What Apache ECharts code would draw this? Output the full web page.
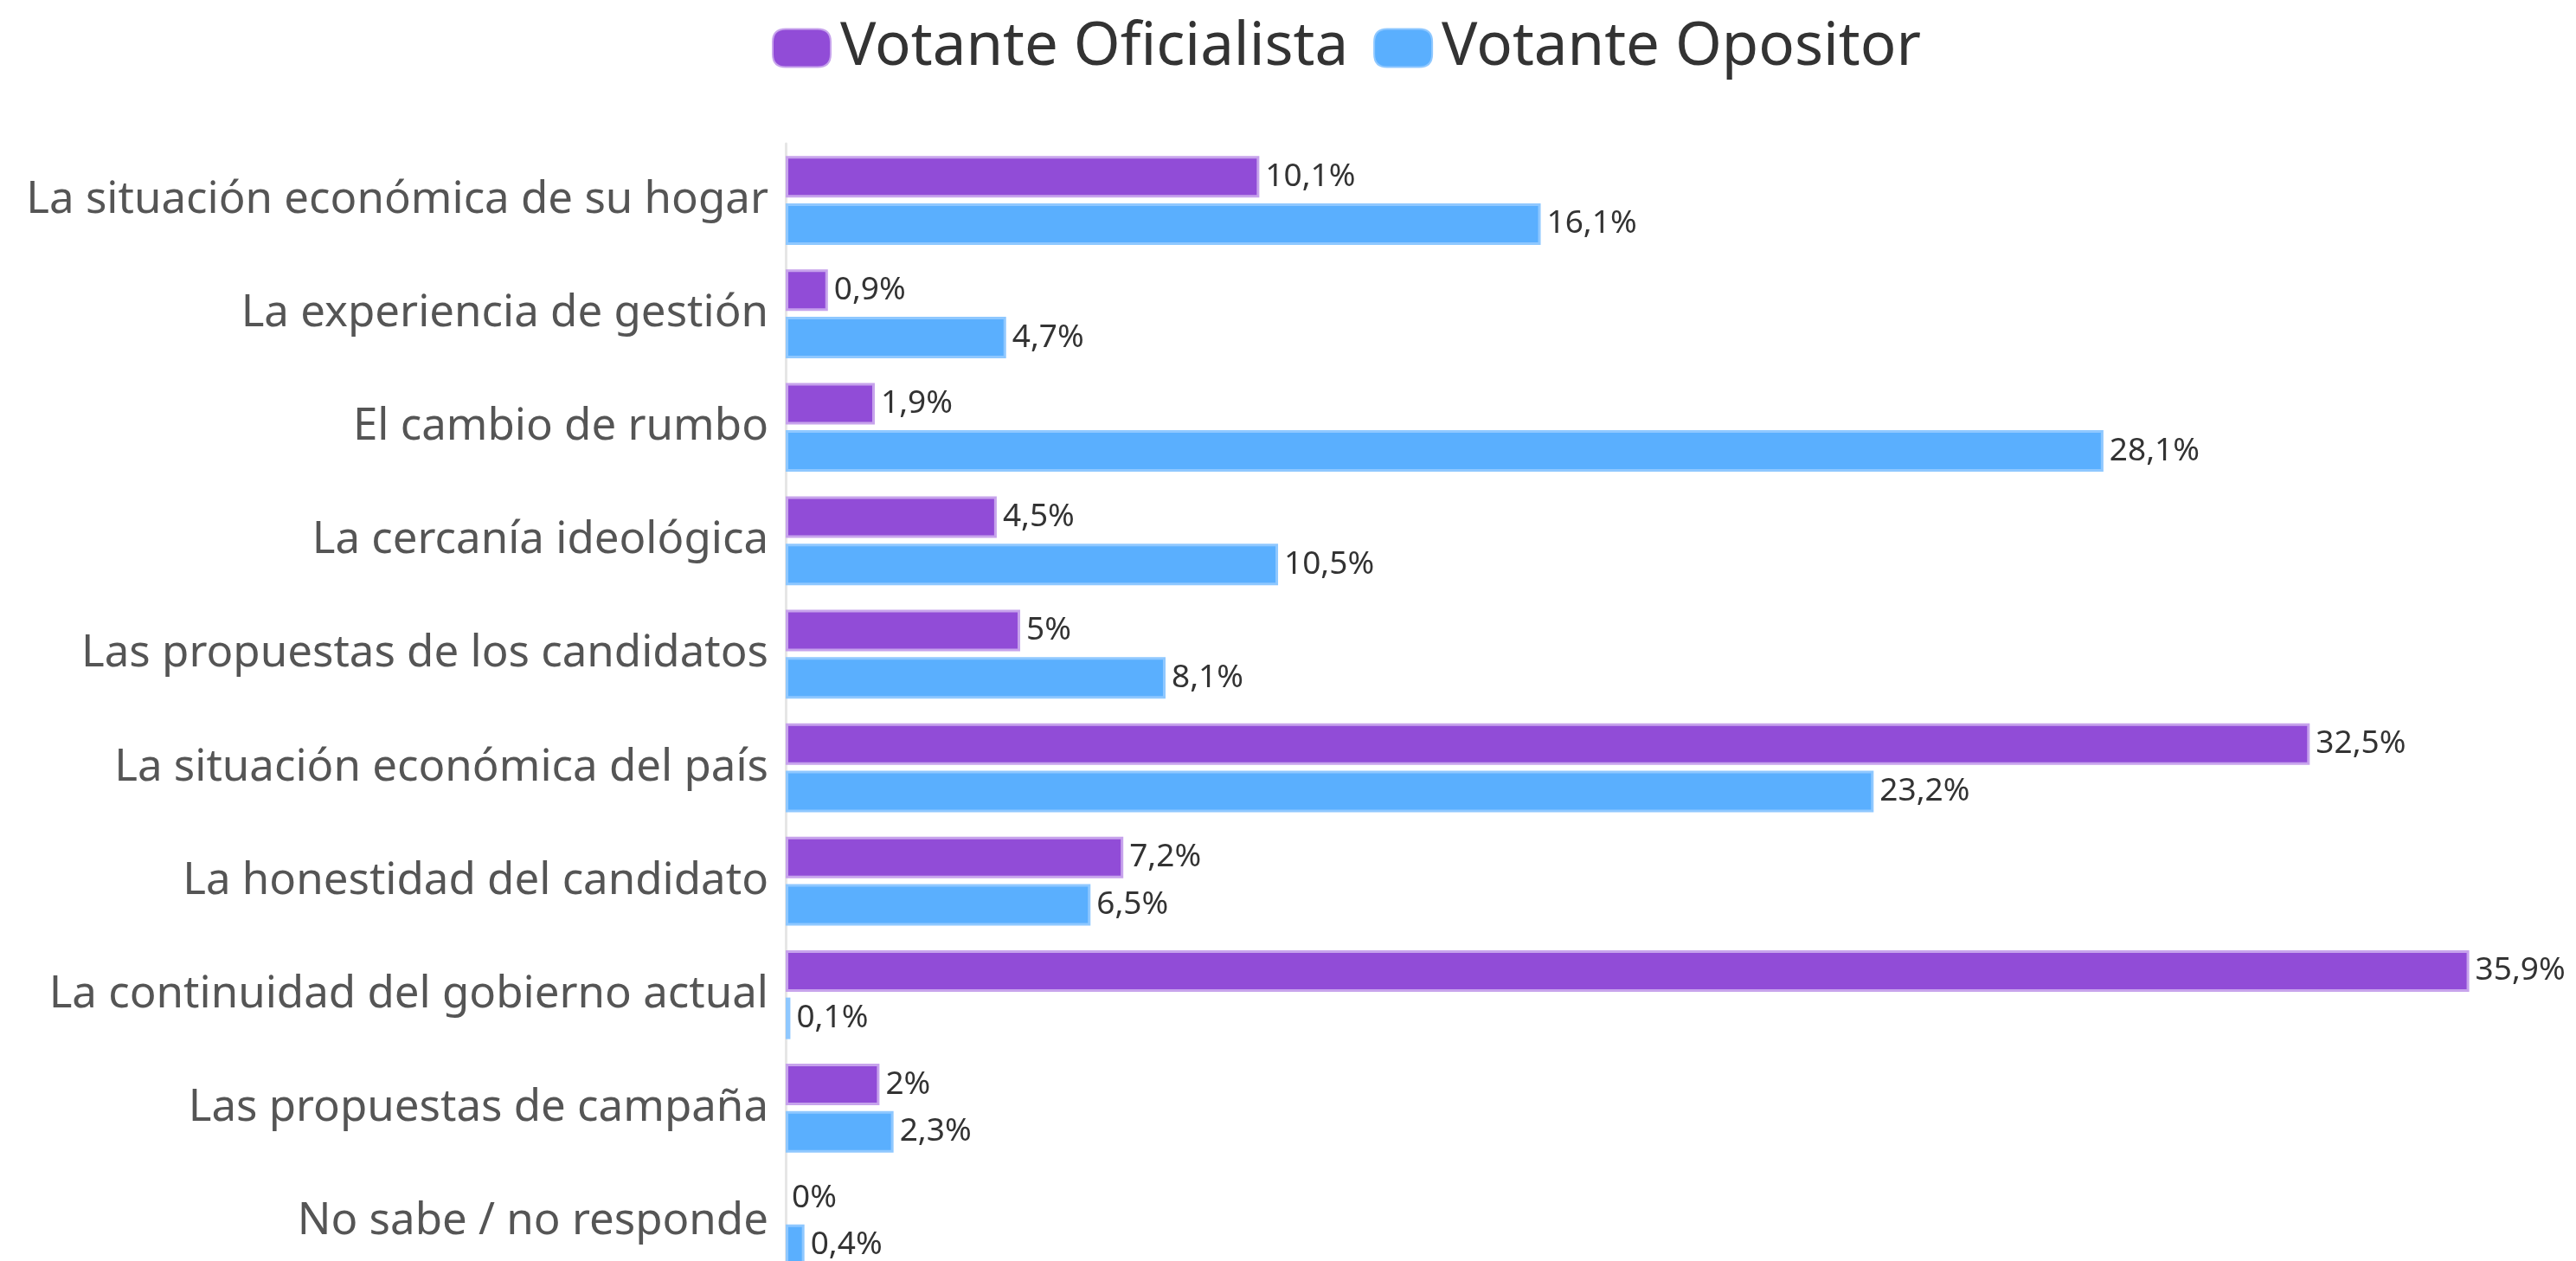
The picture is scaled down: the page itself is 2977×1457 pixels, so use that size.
<!DOCTYPE html>
<html>
<head>
<meta charset="utf-8">
<script src="https://cdn.jsdelivr.net/npm/echarts@6/dist/echarts.min.js"></script>
<style>
  html, body { margin: 0; padding: 0; background: #fff; }
  #main { width: 2977px; height: 1457px; }
</style>
</head>
<body>
<div id="main"></div>
<script>
// datos del gráfico
var categorias = [
    'La situación económica de su hogar',
    'La experiencia de gestión',
    'El cambio de rumbo',
    'La cercanía ideológica',
    'Las propuestas de los candidatos',
    'La situación económica del país',
    'La honestidad del candidato',
    'La continuidad del gobierno actual',
    'Las propuestas de campaña',
    'No sabe / no responde'
];
var oficialista = [10.1, 0.9, 1.9, 4.5, 5, 32.5, 7.2, 35.9, 2, 0];
var opositor = [16.1, 4.7, 28.1, 10.5, 8.1, 23.2, 6.5, 0.1, 2.3, 0.4];

var fuente = 'Noto Sans';
var iconoLeyenda = 'path://M15,0 H52 Q67,0 67,15 V29 Q67,44 52,44 H15 Q0,44 0,29 V15 Q0,0 15,0 Z';

function etiqueta(p) {
    return String(p.value).replace('.', ',') + '%';
}

// las barras en cero no llevan borde
function conBorde(valores) {
    return valores.map(function (v) {
        return v === 0 ? { value: v, itemStyle: { borderWidth: 0 } } : v;
    });
}

var myChart = echarts.init(document.getElementById('main'));

var option = {
    backgroundColor: '#ffffff',
    animation: false,
    legend: {
        left: 887,
        top: 16,
        itemWidth: 67,
        itemHeight: 44,
        itemGap: 29,
        textStyle: {
            fontFamily: fuente,
            fontSize: 69,
            color: '#333333',
            padding: [0, 0, 0, 6]
        },
        data: [
            { name: 'Votante Oficialista', icon: iconoLeyenda },
            { name: 'Votante Opositor', icon: iconoLeyenda }
        ]
    },
    grid: {
        left: 908,
        top: 166,
        width: 1951,
        height: 1311,
        outerBoundsMode: 'none'
    },
    xAxis: {
        type: 'value',
        min: 0,
        max: 36,
        show: false
    },
    yAxis: {
        type: 'category',
        inverse: true,
        data: categorias,
        axisLine: { lineStyle: { color: '#e6e6e6', width: 3 } },
        axisTick: { alignWithLabel: true, length: 21, lineStyle: { color: '#eeeeee', width: 5 } },
        axisLabel: {
            margin: 20,
            padding: [5, 0, 0, 0],
            fontFamily: fuente,
            fontSize: 51,
            color: '#555555'
        }
    },
    series: [
        {
            name: 'Votante Oficialista',
            type: 'bar',
            data: conBorde(oficialista),
            barWidth: 48,
            barGap: '14%',
            itemStyle: { color: '#914cd7', borderColor: '#c7a3ec', borderWidth: 3 },
            label: {
                show: true,
                position: 'right',
                distance: 7,
                fontFamily: fuente,
                fontSize: 37,
                color: '#333333',
                formatter: etiqueta
            }
        },
        {
            name: 'Votante Opositor',
            type: 'bar',
            data: conBorde(opositor),
            barWidth: 48,
            itemStyle: { color: '#5aaffe', borderColor: '#8fc8ff', borderWidth: 3 },
            label: {
                show: true,
                position: 'right',
                distance: 7,
                fontFamily: fuente,
                fontSize: 37,
                color: '#333333',
                formatter: etiqueta
            }
        }
    ]
};

myChart.setOption(option);
</script>
</body>
</html>
